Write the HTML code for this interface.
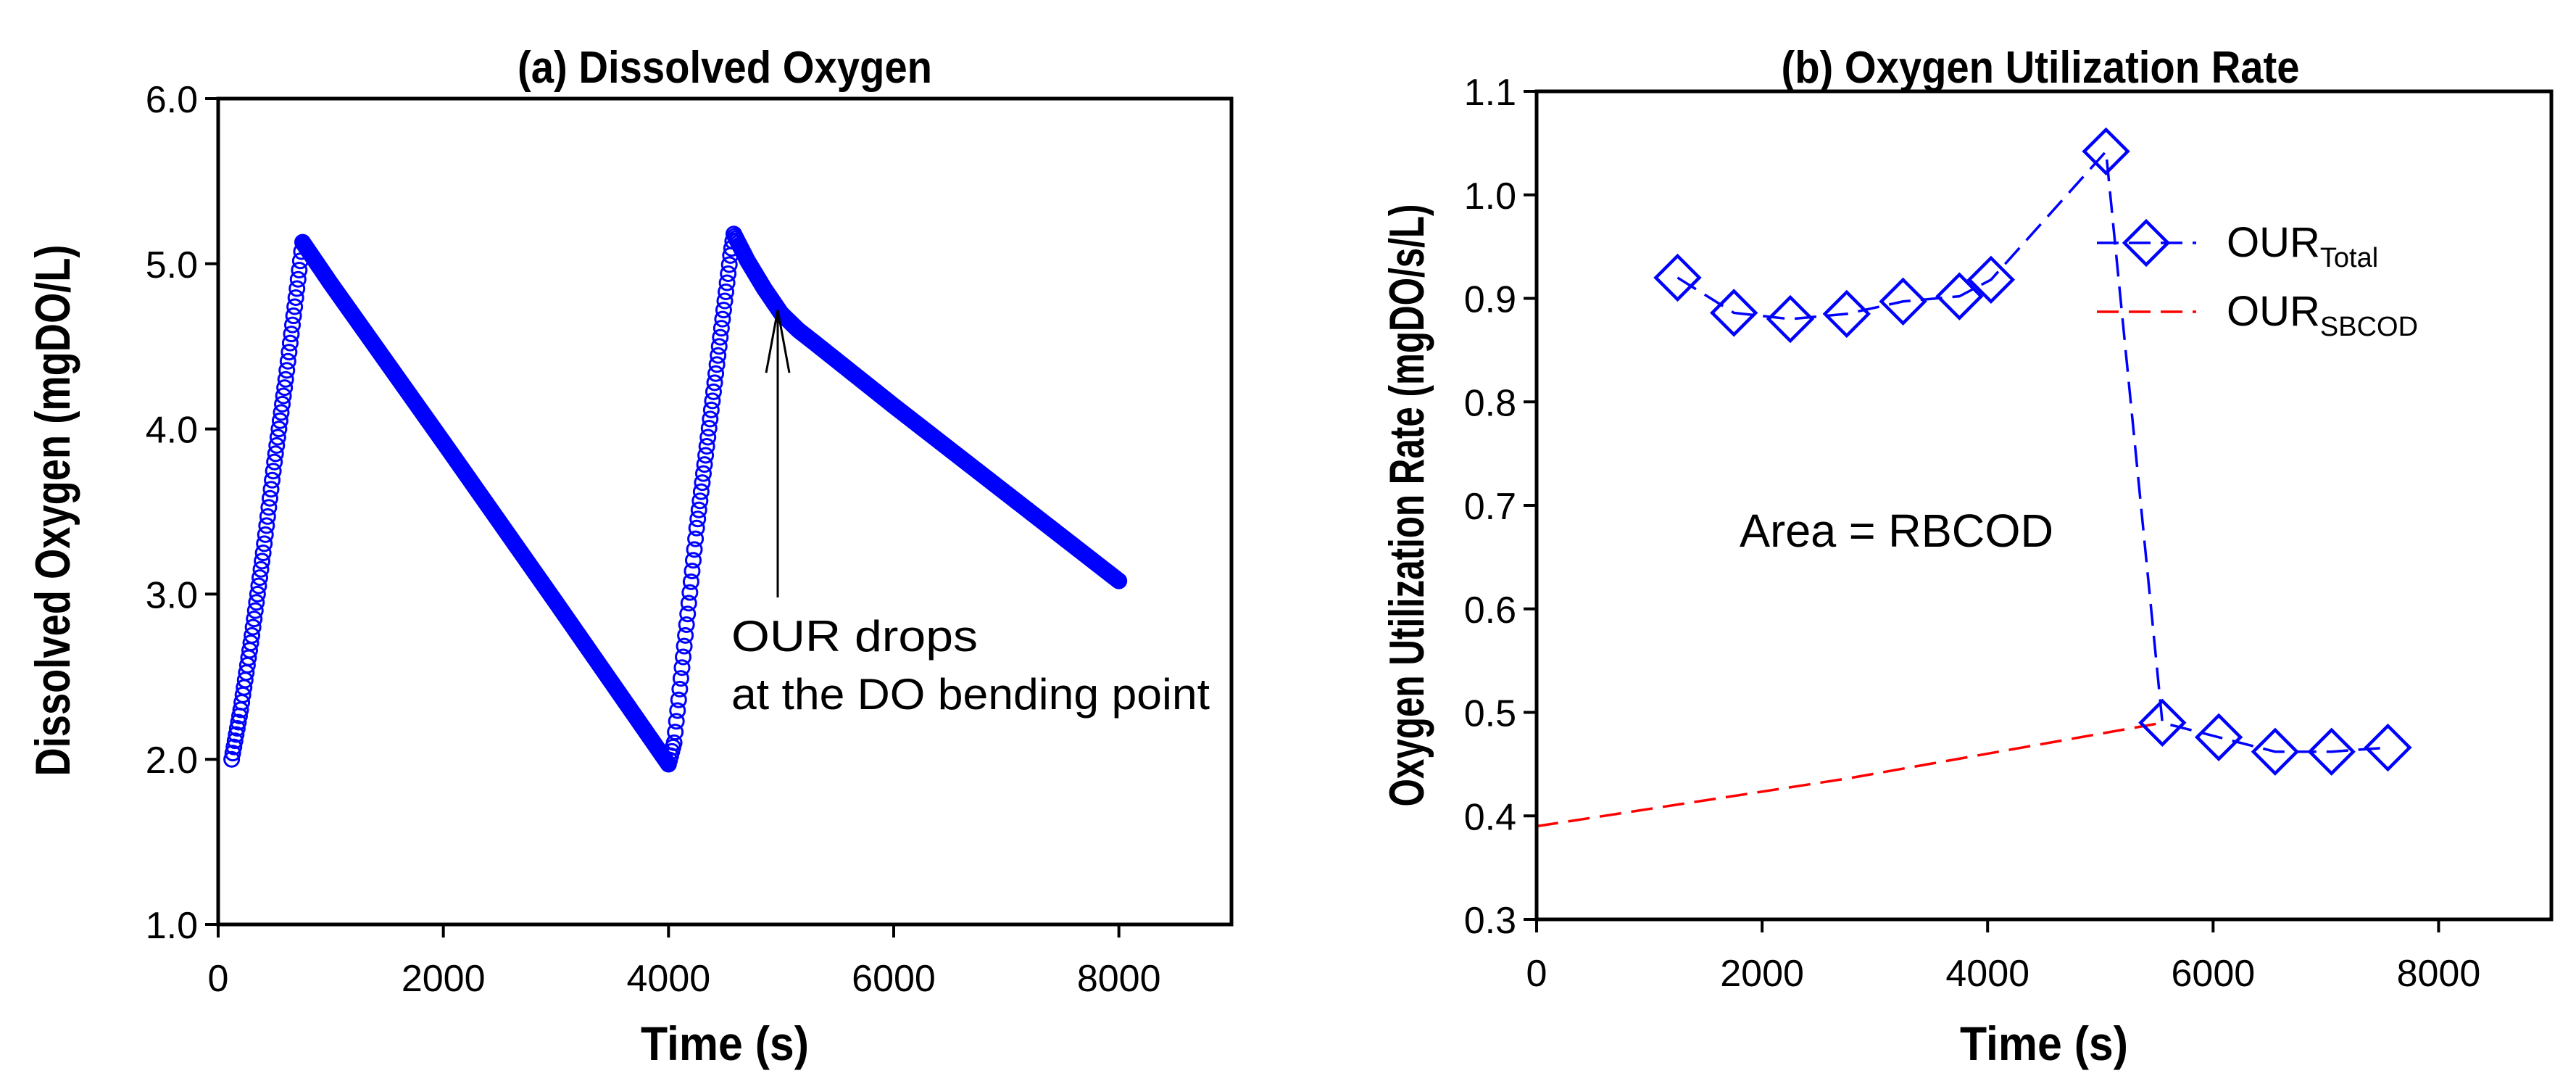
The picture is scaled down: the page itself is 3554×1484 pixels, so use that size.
<!DOCTYPE html>
<html><head><meta charset="utf-8"><style>
html,body{margin:0;padding:0;background:#fff;}
svg{display:block;font-family:"Liberation Sans",Arial,sans-serif;}
</style></head><body>
<svg id="fig" width="3554" height="1484" viewBox="0 0 3554 1484" xmlns="http://www.w3.org/2000/svg">
<rect width="3554" height="1484" fill="#fff"/>
<g id="pa"></g>
<g id="pb"></g>
</svg>
<script>
// Panel A data: DO trace knots (time s, DO mg/L)
const doKnotT = [120, 200, 300, 400, 500, 600, 700, 750, 1000, 2000, 3000, 4000, 4050, 4150, 4250, 4350, 4450, 4550, 4580, 4700, 4850, 5000, 5150, 5300, 6000, 7000, 8000];
const doKnotV = [2.0, 2.3, 2.75, 3.25, 3.8, 4.3, 4.85, 5.13, 4.88, 3.92, 2.95, 1.97, 2.1, 2.75, 3.4, 3.95, 4.5, 5.05, 5.18, 5.02, 4.85, 4.7, 4.6, 4.52, 4.14, 3.61, 3.08];
const aXTicks = [0, 2000, 4000, 6000, 8000];
const aYTicks = [1.0, 2.0, 3.0, 4.0, 5.0, 6.0];
// Panel B data
const ourT = [1250, 1750, 2250, 2750, 3250, 3750, 4030, 5050, 5550, 6050, 6550, 7050, 7550];
const ourV = [0.92, 0.886, 0.88, 0.885, 0.897, 0.902, 0.918, 1.042, 0.49, 0.476, 0.462, 0.462, 0.466];
const sbT = [0, 2750, 5550];
const sbV = [0.39, 0.436, 0.49];
const bXTicks = [0, 2000, 4000, 6000, 8000];
const bYTicks = [0.3, 0.4, 0.5, 0.6, 0.7, 0.8, 0.9, 1.0, 1.1];

const NS = "http://www.w3.org/2000/svg";
function mk(parent, tag, attrs, text) {
  const e = document.createElementNS(NS, tag);
  for (const k in attrs) e.setAttribute(k, attrs[k]);
  if (text !== undefined) e.textContent = text;
  parent.appendChild(e);
  return e;
}

// ---------- Panel A ----------
const A = {l:301, r:1699, t:136, b:1275, x0:0, x1:9000, y0:1, y1:6};
const ax = v => A.l + (v - A.x0) / (A.x1 - A.x0) * (A.r - A.l);
const ay = v => A.b - (v - A.y0) / (A.y1 - A.y0) * (A.b - A.t);
const pa = document.getElementById('pa');

const aMarks = mk(pa, 'g', {});


for (let i = 0; i < doKnotT.length - 1; i++) {
  const t0 = doKnotT[i], t1 = doKnotT[i+1];
  for (let t = t0; t < t1 || (i === doKnotT.length - 2 && t <= t1); t += 10) {
    const f = (t - t0) / (t1 - t0);
    const v = doKnotV[i] + f * (doKnotV[i+1] - doKnotV[i]);
    const c = mk(aMarks, 'circle', {cx: ax(t), cy: ay(v), r: 10, fill: 'none', stroke: '#0000ff', 'stroke-width': 3});
    
    
  }
}

const aFrame = mk(pa, 'rect', {x: A.l, y: A.t, width: A.r - A.l, height: A.b - A.t, fill: 'none', stroke: '#000', 'stroke-width': 5});



aXTicks.forEach(v => {
  const tk = mk(pa, 'line', {x1: ax(v), x2: ax(v), y1: A.b, y2: A.b + 18, stroke: '#000', 'stroke-width': 4});
  
  
  const lb = mk(pa, 'text', {x: ax(v), y: A.b + 92, 'font-size': 52, 'text-anchor': 'middle'}, String(v));
  
  
});
aYTicks.forEach(v => {
  const tk = mk(pa, 'line', {x1: A.l - 18, x2: A.l, y1: ay(v), y2: ay(v), stroke: '#000', 'stroke-width': 4});
  
  
  const lb = mk(pa, 'text', {x: A.l - 28, y: ay(v) + 19, 'font-size': 52, 'text-anchor': 'end'}, v.toFixed(1));
  
  
});
let e;
e = mk(pa, 'text', {x: 1000, y: 114, 'font-size': 62, 'font-weight': 'bold', 'text-anchor': 'middle', textLength: 572, lengthAdjust: 'spacingAndGlyphs'}, '(a) Dissolved Oxygen');
 
e = mk(pa, 'text', {x: 1000, y: 1462, 'font-size': 66, 'font-weight': 'bold', 'text-anchor': 'middle', textLength: 232, lengthAdjust: 'spacingAndGlyphs'}, 'Time (s)');
 
e = mk(pa, 'text', {x: 0, y: 0, 'font-size': 68, 'font-weight': 'bold', 'text-anchor': 'middle', textLength: 733, lengthAdjust: 'spacingAndGlyphs', transform: 'translate(96,704) rotate(-90)'}, 'Dissolved Oxygen (mgDO/L)');
 
// annotation arrow
const arrT = 4970;
e = mk(pa, 'path', {d: `M${ax(arrT)},${ay(2.98)} L${ax(arrT)},${ay(4.72)} M${ax(arrT)-16},${ay(4.34)} L${ax(arrT)},${ay(4.72)} L${ax(arrT)+16},${ay(4.34)}`, fill: 'none', stroke: '#000', 'stroke-width': 3});
 
e = mk(pa, 'text', {x: 1009, y: 898, 'font-size': 60, textLength: 340, lengthAdjust: 'spacingAndGlyphs'}, 'OUR drops');
 
e = mk(pa, 'text', {x: 1009, y: 978, 'font-size': 60, textLength: 660, lengthAdjust: 'spacingAndGlyphs'}, 'at the DO bending point');
 

// ---------- Panel B ----------
const B = {l:2120, r:3520, t:126, b:1268, x0:0, x1:9000, y0:0.3, y1:1.1};
const bx = v => B.l + (v - B.x0) / (B.x1 - B.x0) * (B.r - B.l);
const by = v => B.b - (v - B.y0) / (B.y1 - B.y0) * (B.b - B.t);
const pb = document.getElementById('pb');

e = mk(pb, 'polyline', {points: sbT.map((t, i) => bx(t) + ',' + by(sbV[i])).join(' '), fill: 'none', stroke: '#ff0000', 'stroke-width': 3.5, 'stroke-dasharray': '30 14'});
 
e = mk(pb, 'polyline', {points: ourT.map((t, i) => bx(t) + ',' + by(ourV[i])).join(' '), fill: 'none', stroke: '#0000ff', 'stroke-width': 3.5, 'stroke-dasharray': '30 14'});
 
ourT.forEach((t, i) => {
  const cx = bx(t), cy = by(ourV[i]), h = 30;
  const d = mk(pb, 'polygon', {points: `${cx},${cy-h} ${cx+h},${cy} ${cx},${cy+h} ${cx-h},${cy}`, fill: 'none', stroke: '#0000ff', 'stroke-width': 4.5});
  
  
});

e = mk(pb, 'rect', {x: B.l, y: B.t, width: B.r - B.l, height: B.b - B.t, fill: 'none', stroke: '#000', 'stroke-width': 5});
 
bXTicks.forEach(v => {
  const tk = mk(pb, 'line', {x1: bx(v), x2: bx(v), y1: B.b, y2: B.b + 18, stroke: '#000', 'stroke-width': 4});
  
  
  const lb = mk(pb, 'text', {x: bx(v), y: B.b + 92, 'font-size': 52, 'text-anchor': 'middle'}, String(v));
  
  
});
bYTicks.forEach(v => {
  const tk = mk(pb, 'line', {x1: B.l - 18, x2: B.l, y1: by(v), y2: by(v), stroke: '#000', 'stroke-width': 4});
  
  
  const lb = mk(pb, 'text', {x: B.l - 28, y: by(v) + 19, 'font-size': 52, 'text-anchor': 'end'}, v.toFixed(1));
  
  
});
e = mk(pb, 'text', {x: 2815, y: 114, 'font-size': 62, 'font-weight': 'bold', 'text-anchor': 'middle', textLength: 715, lengthAdjust: 'spacingAndGlyphs'}, '(b) Oxygen Utilization Rate');
 
e = mk(pb, 'text', {x: 2820, y: 1462, 'font-size': 66, 'font-weight': 'bold', 'text-anchor': 'middle', textLength: 232, lengthAdjust: 'spacingAndGlyphs'}, 'Time (s)');
 
e = mk(pb, 'text', {x: 0, y: 0, 'font-size': 68, 'font-weight': 'bold', 'text-anchor': 'middle', textLength: 831, lengthAdjust: 'spacingAndGlyphs', transform: 'translate(1964,697) rotate(-90)'}, 'Oxygen Utilization Rate (mgDO/s/L)');
 
e = mk(pb, 'text', {x: 2400, y: 754, 'font-size': 64, textLength: 433, lengthAdjust: 'spacingAndGlyphs'}, 'Area = RBCOD');
 

// legend
const lg = mk(pb, 'g', {});


e = mk(lg, 'line', {x1: 2893, x2: 3030, y1: 335, y2: 335, stroke: '#0000ff', 'stroke-width': 3.5, 'stroke-dasharray': '30 14'});
 
e = mk(lg, 'polygon', {points: '2961,305 2991,335 2961,365 2931,335', fill: 'none', stroke: '#0000ff', 'stroke-width': 4.5});
 
e = mk(lg, 'text', {x: 3072, y: 354, 'font-size': 58});
 
mk(e, 'tspan', {}, 'OUR'); mk(e, 'tspan', {'font-size': 38, dy: 14}, 'Total');
e = mk(lg, 'line', {x1: 2893, x2: 3030, y1: 430, y2: 430, stroke: '#ff0000', 'stroke-width': 3.5, 'stroke-dasharray': '30 14'});
 
e = mk(lg, 'text', {x: 3072, y: 449, 'font-size': 58});
 
mk(e, 'tspan', {}, 'OUR'); mk(e, 'tspan', {'font-size': 38, dy: 14}, 'SBCOD');
</script>
</body></html>
